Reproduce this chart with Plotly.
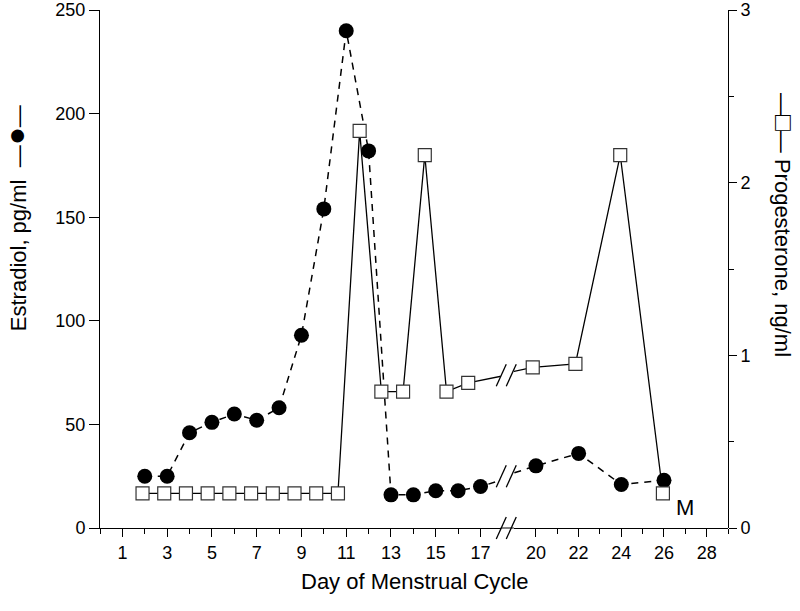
import plotly.graph_objects as go

# ---- data ----
est_days = [2, 3, 4, 5, 6, 7, 8, 9, 10, 11, 12, 13, 14, 15, 16, 17, 20, 22, 24, 26]
estradiol = [25, 25, 46, 51, 55, 52, 58, 93, 154, 240, 182, 16, 16, 18, 18, 20, 30, 36, 21, 23]

prog_days = [1.9, 2.87, 3.84, 4.81, 5.78, 6.75, 7.72, 8.69, 9.66, 10.63,
             11.6, 12.57, 13.54, 14.51, 15.48, 16.45, 19.85, 21.85, 23.95, 25.95]
progesterone = [0.2, 0.2, 0.2, 0.2, 0.2, 0.2, 0.2, 0.2, 0.2, 0.2,
                2.3, 0.79, 0.79, 2.16, 0.79, 0.84, 0.93, 0.95, 2.16, 0.2]

left_ticks = [1, 3, 5, 7, 9, 11, 13, 15, 17]
right_ticks = [20, 22, 24, 26, 28]
left_minor = list(range(0, 18))
right_minor = list(range(20, 30))
y1_ticks = [0, 50, 100, 150, 200, 250]
y2_ticks = [0, 1, 2, 3]

BREAK_DAY_LO = 17.9
BREAK_DAY_HI = 18.965

FONT = "Liberation Sans, Arial, sans-serif"
dom_l = [0, 0.638]
dom_r = [0.659, 1]
gap_c = (dom_l[1] + dom_r[0]) / 2

fig = go.Figure()

for xa in ["x", "x2"]:
    fig.add_trace(go.Scatter(
        x=prog_days, y=progesterone, xaxis=xa, yaxis="y2", mode="lines+markers",
        line=dict(color="black", width=1.3),
        marker=dict(symbol="square", size=13, color="white",
                    line=dict(color="#333333", width=1.2)),
        showlegend=False, hoverinfo="skip"))
for xa in ["x", "x2"]:
    fig.add_trace(go.Scatter(
        x=est_days, y=estradiol, xaxis=xa, yaxis="y", mode="lines+markers",
        line=dict(color="black", width=1.5, dash="7px,6px"),
        marker=dict(symbol="circle", size=15, color="black"),
        showlegend=False, hoverinfo="skip"))

axis_common = dict(showline=True, linecolor="black", linewidth=1, ticks="outside",
                   tickcolor="black", tickwidth=1, showgrid=False, zeroline=False,
                   automargin=False, ticklabeloverflow="allow",
                   tickfont=dict(family=FONT, size=18, color="black"))

fig.update_layout(
    width=800, height=611,
    margin=dict(l=100, r=72, t=10, b=83, autoexpand=False),
    paper_bgcolor="white", plot_bgcolor="white",
    font=dict(family=FONT, color="black"),
    xaxis=dict(domain=dom_l, range=[0, BREAK_DAY_LO], tickmode="array", tickvals=left_ticks,
               ticklen=8, anchor="y",
               minor=dict(tickmode="array", tickvals=left_minor, ticks="outside", ticklen=5,
                          tickcolor="black", showgrid=False),
               **axis_common),
    xaxis2=dict(domain=dom_r, range=[BREAK_DAY_HI, 29], tickmode="array", tickvals=right_ticks,
                ticklen=8, anchor="y",
                minor=dict(tickmode="array", tickvals=right_minor, ticks="outside", ticklen=5,
                           tickcolor="black", showgrid=False),
                **axis_common),
    yaxis=dict(range=[0, 250], tickmode="array", tickvals=y1_ticks, ticklen=10,
               anchor="x", **axis_common),
    yaxis2=dict(range=[0, 3], tickmode="array", tickvals=y2_ticks, ticklen=8,
                overlaying="y", side="right", anchor="free", position=1,
                minor=dict(dtick=0.5, ticks="outside", ticklen=5, tickcolor="black"),
                **axis_common),
)

# axis line across the break
fig.add_shape(type="line", xref="paper", yref="paper", x0=dom_l[1], x1=dom_r[0], y0=0, y1=0,
              line=dict(color="black", width=1))

def break_marks(yref, yval):
    for dx0, dx1 in [(-10, 0), (0, 10)]:
        fig.add_shape(type="line", xref="paper", xsizemode="pixel", xanchor=gap_c,
                      x0=dx0 - 1, x1=dx1 - 1, yref=yref, ysizemode="pixel", yanchor=yval,
                      y0=-11, y1=11, line=dict(color="black", width=1.3))

break_marks("paper", 0)
i_lo = max(i for i, d in enumerate(est_days) if d < BREAK_DAY_LO)
break_marks("y", (estradiol[i_lo] + estradiol[i_lo + 1]) / 2)
j_lo = max(i for i, d in enumerate(prog_days) if d < BREAK_DAY_LO)
break_marks("y2", (progesterone[j_lo] + progesterone[j_lo + 1]) / 2)

fig.add_annotation(text="Day of Menstrual Cycle", xref="paper", yref="paper", x=0.5, y=-0.104,
                   showarrow=False, font=dict(family=FONT, size=22, color="black"),
                   xanchor="center", yanchor="middle")
fig.add_annotation(text="Estradiol, pg/ml  \u2014<span style='font-size:30px'>\u25CF</span>\u2014",
                   xref="paper", yref="paper",
                   x=-0.1354, y=0.598, textangle=-90, showarrow=False,
                   font=dict(family=FONT, size=22, color="black"),
                   xanchor="center", yanchor="middle")
fig.add_annotation(text="\u2014<span style='font-size:26px'>\u25A1</span>\u2014 Progesterone, ng/ml",
                   xref="paper", yref="paper",
                   x=1.089, y=0.585, textangle=90, showarrow=False,
                   font=dict(family=FONT, size=22, color="black"),
                   xanchor="center", yanchor="middle")
fig.add_annotation(text="M", xref="x2", yref="y", x=27.0, y=10, showarrow=False,
                   font=dict(family=FONT, size=22, color="black"),
                   xanchor="center", yanchor="middle")

fig.write_html("out.html", config={"displayModeBar": False},
               post_script="document.body.style.margin='0px';")
